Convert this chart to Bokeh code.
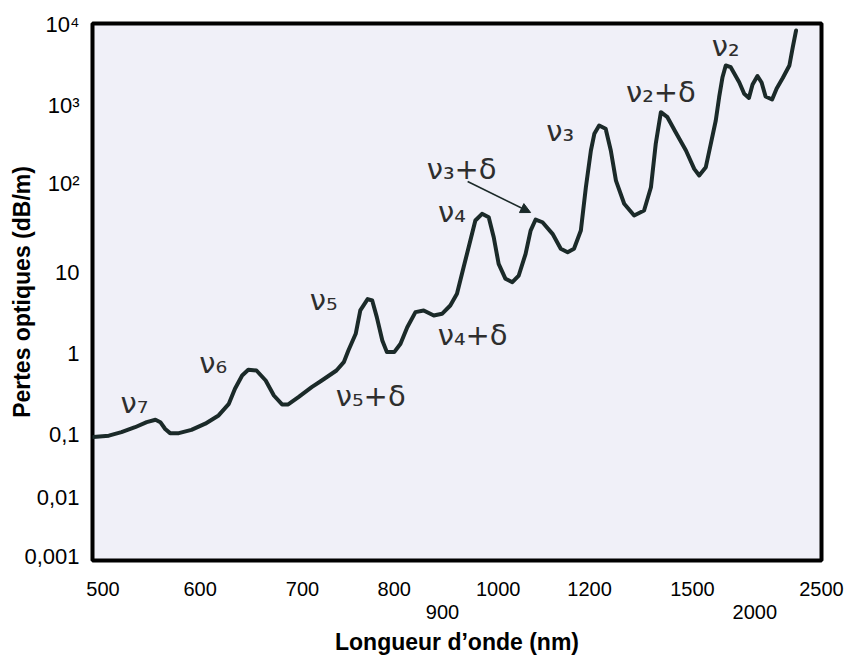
import numpy as np
from bokeh.plotting import figure
from bokeh.models import Range1d, FixedTicker, LinearAxis, ColumnDataSource, Arrow, NormalHead
from bokeh.core.properties import value
from bokeh.embed import file_html
from bokeh.resources import INLINE

# ---------------- data ----------------
WAVELENGTH_NM = [490, 506, 519, 533, 545, 554, 559, 564, 569, 578, 591, 605, 618, 628, 634,
                 641, 647, 655, 664, 672, 680, 686, 696, 710, 721, 737, 745, 750, 758, 763,
                 771, 776, 781, 787, 792, 800, 813, 827, 844, 861, 882, 899, 914, 926, 938,
                 950, 959, 971, 983, 992, 1001, 1016, 1031, 1045, 1060, 1071, 1082, 1097,
                 1119, 1137, 1152, 1166, 1181, 1192, 1204, 1214, 1228, 1247, 1262, 1277,
                 1301, 1330, 1359, 1379, 1393, 1408, 1427, 1451, 1481, 1514, 1554, 1607,
                 1647, 1687, 1714, 1741, 1767, 1807, 1875, 1915, 1953, 1982, 2018, 2046,
                 2073, 2117, 2148, 2189, 2234, 2257, 2279]
LOSS_DB_PER_M = [0.091, 0.096, 0.107, 0.123, 0.142, 0.152, 0.142, 0.117, 0.104, 0.104, 0.114,
                 0.136, 0.172, 0.239, 0.367, 0.535, 0.629, 0.617, 0.464, 0.303, 0.235, 0.235,
                 0.289, 0.384, 0.464, 0.617, 0.781, 1.09, 1.75, 3.40, 4.7, 4.51, 2.81, 1.45,
                 1.04, 1.04, 1.32, 2.11, 3.24, 3.40, 2.94, 3.09, 3.91, 5.46, 11.5, 22.9, 38.4,
                 45.7, 41.8, 24.9, 12.5, 8.36, 7.59, 9.18, 16.2, 29.6, 39.4, 36.7, 27.2, 18.5,
                 16.9, 18.5, 29.6, 90.9, 265, 434, 554, 503, 265, 109, 59.2, 43.7, 49.7, 90.9,
                 323, 821, 708, 455, 265, 154, 127, 162, 323, 642, 1266, 2236, 3118, 2970,
                 1940, 1394, 1238, 1817, 2313, 1923, 1291, 1186, 1622, 2185, 3118, 5246, 8430]

# band labels, anchored on the band maxima (wavelength, loss)
BAND_LABELS = ["ν₇", "ν₆", "ν₅+δ", "ν₅", "ν₄+δ", "ν₄", "ν₃+δ", "ν₃", "ν₂+δ", "ν₂"]
BAND_NM = [554, 647, 710, 771, 861, 971, 1082, 1228, 1408, 1767]
BAND_LOSS = [0.152, 0.629, 0.384, 4.7, 3.40, 45.7, 39.4, 554, 821, 3118]

# axis (hand-drawn, non-uniform scales of the original figure)
X_TICK_NM = [500, 600, 700, 800, 900, 1000, 1200, 1500, 2000, 2500]
X_TICK_LABELS = ["500", "600", "700", "800", "900", "1000", "1200", "1500", "2000", "2500"]
X_TICK_ROW = [0, 0, 0, 0, 1, 0, 0, 0, 1, 0]
Y_TICK_VALUES = [0.001, 0.01, 0.1, 1, 10, 100, 1000, 10000]
Y_TICK_LABELS = ["0,001", "0,01", "0,1", "1", "10", "10²", "10³", "10⁴"]

# relative position of each printed tick along its axis (fraction of frame)
X_TICK_POS = [0.0144, 0.1477, 0.2881, 0.4139, 0.4801, 0.5565, 0.6818, 0.8230, 0.9085, 1.0099]
Y_TICK_POS = [0.0074, 0.1173, 0.2346, 0.3855, 0.5363, 0.7020, 0.8473, 0.9981]

# ---------------- layout / style ----------------
FRAME_W, FRAME_H = 729, 537
LABEL_OFFSETS = [(-21, -17), (-35, -7), (59, 9), (-44, 1), (49, 25), (-30, -2),
                 (-74, -51), (-39, 5), (0, -20), (0, -20)]
ARROW_FROM_PX = (-68, -38)   # relative to the nu3+delta maximum
ARROW_TO_PX = (-5, -7)
CURVE_COLOR = "#1b2a29"
TEXT_COLOR = "#2e2e2e"


def axis_pos(v, tick_v, tick_p):
    v = np.atleast_1d(np.asarray(v, dtype=float))
    xp = np.asarray(tick_v, dtype=float)
    fp = np.asarray(tick_p, dtype=float)
    out = np.interp(v, xp, fp)
    lo, hi = v < xp[0], v > xp[-1]
    out[lo] = fp[0] + (v[lo] - xp[0]) * (fp[1] - fp[0]) / (xp[1] - xp[0])
    out[hi] = fp[-1] + (v[hi] - xp[-1]) * (fp[-1] - fp[-2]) / (xp[-1] - xp[-2])
    return out


def xpos(nm):
    return axis_pos(nm, X_TICK_NM, X_TICK_POS)


def ypos(loss):
    return axis_pos(np.log10(loss), np.log10(Y_TICK_VALUES), Y_TICK_POS)


p = figure(width=854, height=657, x_range=Range1d(0, 1), y_range=Range1d(0, 1),
           output_backend="svg", toolbar_location=None,
           min_border_left=92, min_border_right=33, min_border_top=23, min_border_bottom=97,
           background_fill_color="#F0F0F8", border_fill_color="white",
           outline_line_color="black", outline_line_width=4)
p.grid.visible = False

AX_FONT = "Liberation Sans"


def style_axis(ax, size):
    ax.axis_line_color = None
    ax.major_tick_line_color = None
    ax.minor_tick_line_color = None
    ax.major_tick_out = 0
    ax.major_tick_in = 0
    ax.major_label_text_font = AX_FONT
    ax.major_label_text_font_size = size
    ax.major_label_text_color = "black"
    ax.axis_label_text_font = AX_FONT
    ax.axis_label_text_font_style = "bold"
    ax.axis_label_text_font_size = "23px"
    ax.axis_label_text_color = "black"


# x axis: two rows of labels
row_ticks = {0: [], 1: []}
row_over = {0: {}, 1: {}}
for nm, lab, row, pos in zip(X_TICK_NM, X_TICK_LABELS, X_TICK_ROW, xpos(X_TICK_NM)):
    t = round(min(float(pos), 1.0), 4)
    row_ticks[row].append(t)
    row_over[row][t] = lab

xa1 = p.xaxis[0]
style_axis(xa1, "20px")
xa1.ticker = FixedTicker(ticks=row_ticks[0])
xa1.major_label_overrides = row_over[0]
xa1.major_label_standoff = 21

xa2 = LinearAxis(ticker=FixedTicker(ticks=row_ticks[1]), major_label_overrides=row_over[1],
                 axis_label="Longueur d’onde (nm)")
style_axis(xa2, "20px")
xa2.major_label_standoff = 6
xa2.axis_label_standoff = 7
p.add_layout(xa2, "below")

# y axis
ya = p.yaxis[0]
style_axis(ya, "22px")
yt = [round(float(v), 4) for v in ypos(Y_TICK_VALUES)]
ya.ticker = FixedTicker(ticks=yt)
ya.major_label_overrides = {t: lab for t, lab in zip(yt, Y_TICK_LABELS)}
ya.major_label_standoff = 13
ya.axis_label = "Pertes optiques (dB/m)"
ya.axis_label_standoff = -14

# curve
src = ColumnDataSource(dict(x=xpos(WAVELENGTH_NM), y=ypos(LOSS_DB_PER_M)))
p.line(x="x", y="y", source=src, line_color=CURVE_COLOR, line_width=4,
       line_join="round", line_cap="round")

# band labels
lab_src = ColumnDataSource(dict(
    x=xpos(BAND_NM), y=ypos(BAND_LOSS), text=BAND_LABELS,
    dx=[o[0] for o in LABEL_OFFSETS], dy=[o[1] for o in LABEL_OFFSETS]))
p.text(x="x", y="y", text="text", x_offset="dx", y_offset="dy", source=lab_src,
       text_font=value("DejaVu Sans"), text_font_size="29px", text_color=TEXT_COLOR,
       text_align="center", text_baseline="middle")

# arrow to nu3+delta
i = BAND_LABELS.index("ν₃+δ")
ax0 = float(xpos(BAND_NM[i])[0])
ay0 = float(ypos(BAND_LOSS[i])[0])
p.add_layout(Arrow(end=NormalHead(size=10, fill_color=CURVE_COLOR, line_color=CURVE_COLOR),
                   x_start=ax0 + ARROW_FROM_PX[0] / FRAME_W, y_start=ay0 - ARROW_FROM_PX[1] / FRAME_H,
                   x_end=ax0 + ARROW_TO_PX[0] / FRAME_W, y_end=ay0 - ARROW_TO_PX[1] / FRAME_H,
                   line_color=CURVE_COLOR, line_width=1.6))

with open("out.html", "w", encoding="utf-8") as f:
    f.write(file_html(p, INLINE, "Pertes optiques"))
